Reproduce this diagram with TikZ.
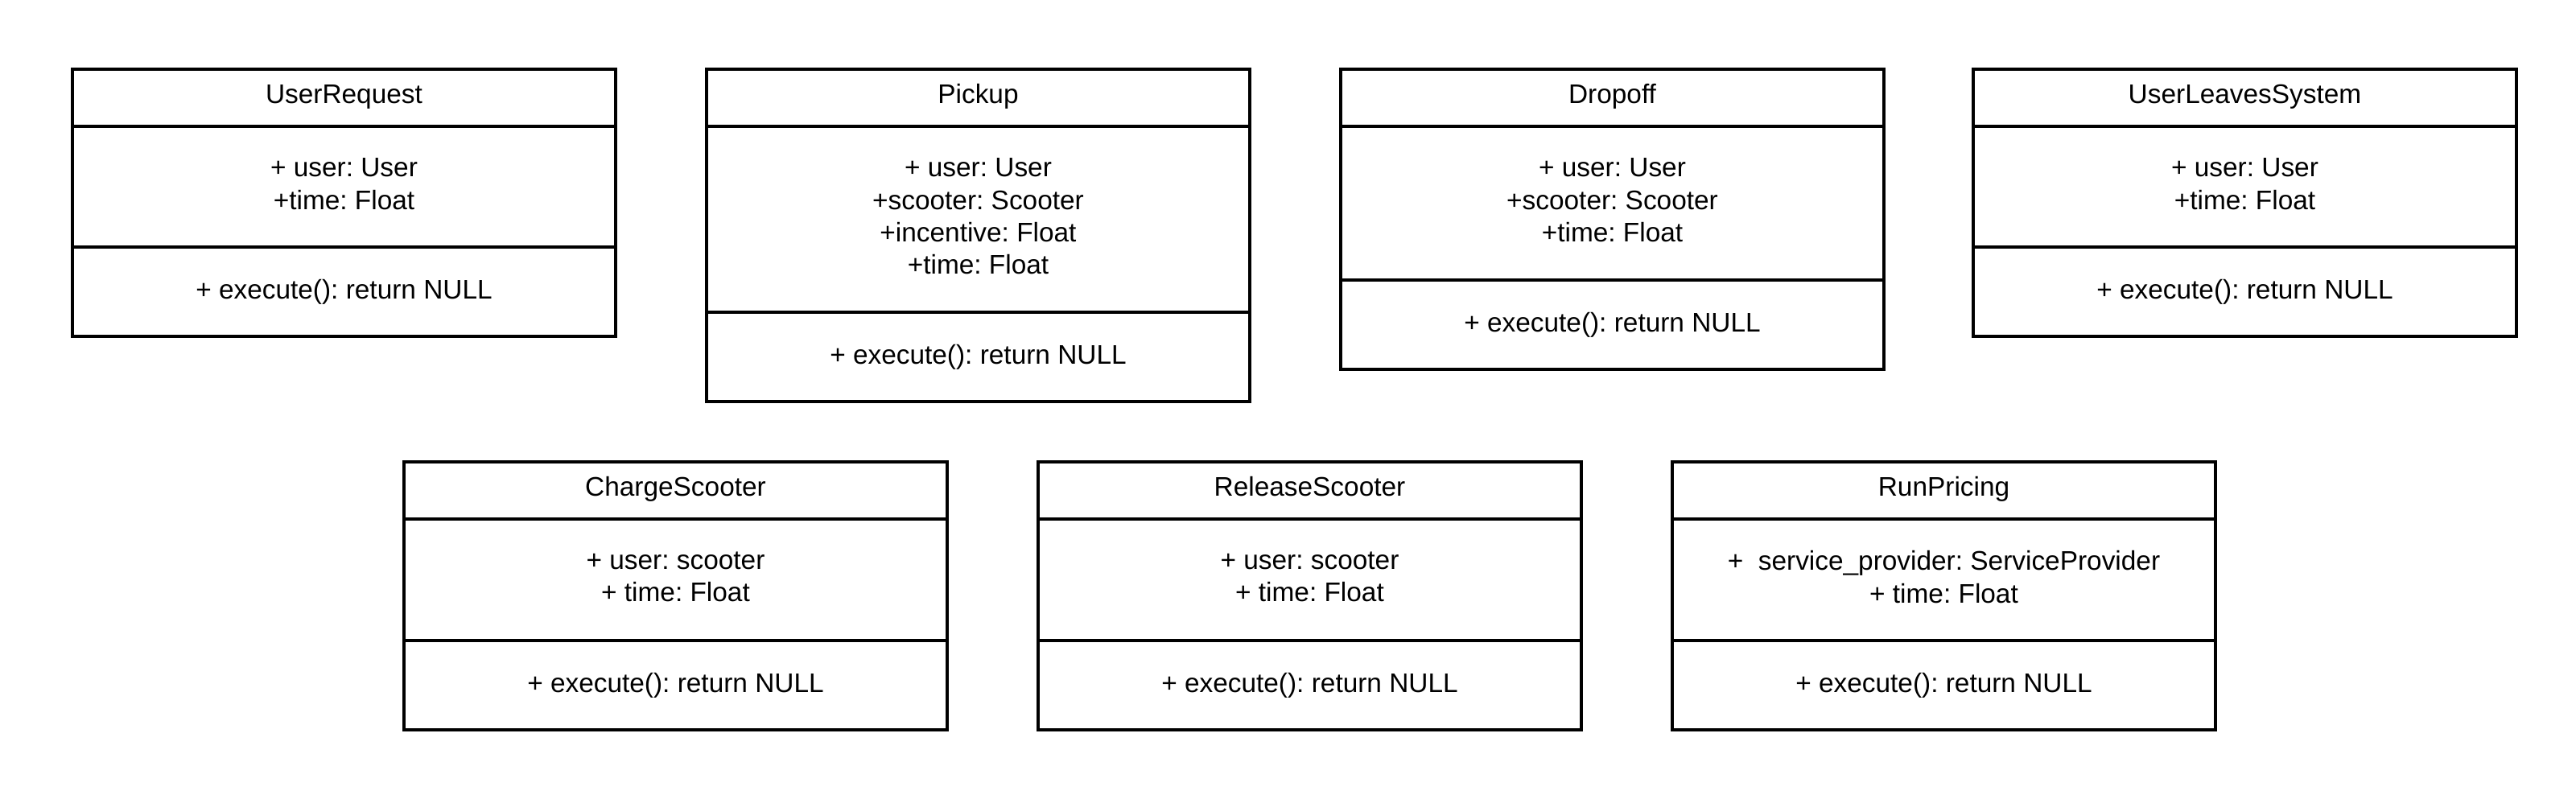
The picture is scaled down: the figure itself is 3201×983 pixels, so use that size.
\documentclass[tikz,border=0pt]{standalone}
\usepackage{fontspec}
\setmainfont{Liberation Sans}
\frenchspacing
\tikzset{
  classbox/.style={draw=black, line width=1.6pt, inner sep=0pt, outer sep=0pt,
    minimum width=337.5pt, anchor=north west},
  divider/.style={draw=black, line width=1.6pt},
  lbl/.style={font=\fontsize{16.7pt}{20.2pt}\selectfont\frenchspacing, align=center, inner sep=0pt},
  onel/.style={lbl, text height=0.73em, text depth=0.21em}
}
% #1 name, #2 left x (px), #3 top y (px), #4 attribute section height (px),
% #5 title, #6 attributes, #7 operation
\newcommand{\umlclass}[7]{%
  \node[classbox, minimum height={(71+#4+111)*0.5pt}] (#1) at (#2,#3) {};
  \draw[divider] ([yshift=-35.5pt]#1.north west) -- ([yshift=-35.5pt]#1.north east);
  \draw[divider] ([yshift=55.5pt]#1.south west) -- ([yshift=55.5pt]#1.south east);
  \node[onel] (#1-title) at ([yshift=-18.75pt]#1.north) {#5};
  \node[lbl] (#1-attr) at ([yshift={-(71+#4/2)*0.5pt+1.75pt}]#1.north) {#6};
  \node[onel] (#1-op) at ([yshift=25.75pt]#1.south) {#7};
}
\begin{document}
\begin{tikzpicture}[x=0.5pt, y=-0.5pt]
  \useasboundingbox[fill=white] (0,0) rectangle (3201,983);
  % row 1
  \umlclass{ur}{90}{86}{150}{UserRequest}{+ user: User\\+time: Float}{+ execute(): return NULL}
  \umlclass{pu}{878}{86}{231}{Pickup}{+ user: User\\+scooter: Scooter\\+incentive: Float\\+time: Float}{+ execute(): return NULL}
  \umlclass{do}{1666}{86}{191}{Dropoff}{+ user: User\\+scooter: Scooter\\+time: Float}{+ execute(): return NULL}
  \umlclass{uls}{2452}{86}{150}{UserLeavesSystem}{+ user: User\\+time: Float}{+ execute(): return NULL}
  % row 2
  \umlclass{cs}{502}{574}{151}{ChargeScooter}{+ user: scooter\\+ time: Float}{+ execute(): return NULL}
  \umlclass{rs}{1290}{574}{151}{ReleaseScooter}{+ user: scooter\\+ time: Float}{+ execute(): return NULL}
  \umlclass{rp}{2078}{574}{151}{RunPricing}{+\ \ service\_provider: ServiceProvider\\+ time: Float}{+ execute(): return NULL}
\end{tikzpicture}
\end{document}
